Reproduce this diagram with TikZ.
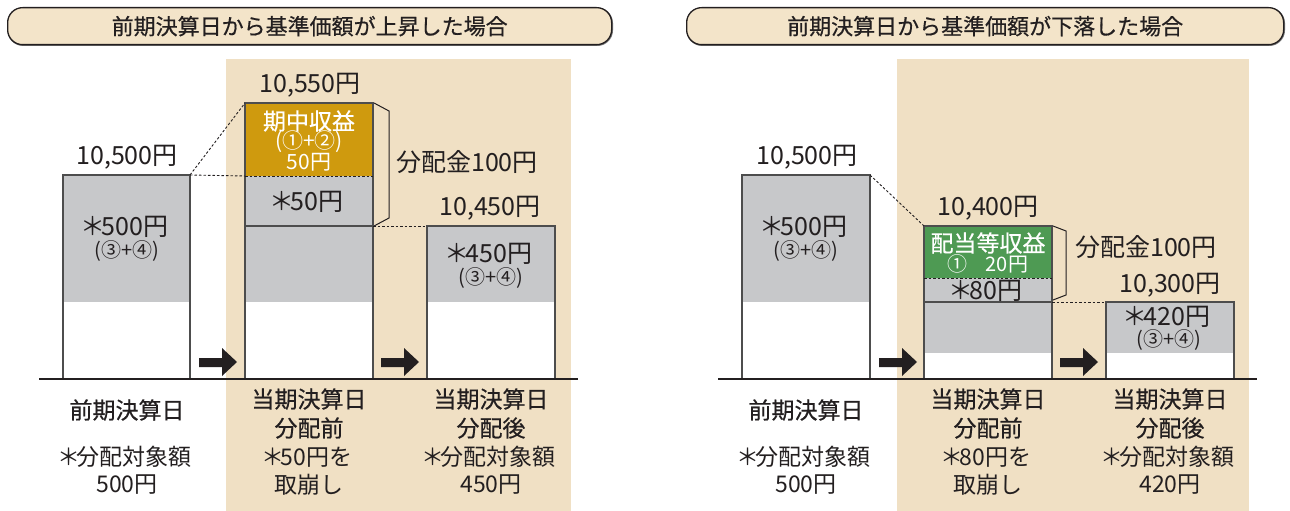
\documentclass[tikz,border=0pt]{standalone}
\usepackage{fontspec}
\newfontfamily\jp{Noto Sans CJK JP}
\newfontfamily\jpm[FakeBold=0.5]{Noto Sans CJK JP}
\definecolor{ink}{HTML}{231F20}
\definecolor{beige}{HTML}{F0E0C4}
\definecolor{hdr}{HTML}{F3E4C9}
\definecolor{barg}{HTML}{C7C8CA}
\definecolor{gold}{HTML}{CF9A0E}
\definecolor{grn}{HTML}{4E9A53}
\definecolor{edge}{HTML}{4D4D4D}
\newcommand\kome{\hspace{-0.2em}＊\hspace{-0.16em}}
\newcommand\fsA{\fontsize{25}{30}\selectfont}
\newcommand\fsB{\fontsize{23}{28}\selectfont}
\newcommand\fsC{\fontsize{20}{24}\selectfont}
\newcommand\fsD{\fontsize{21}{24}\selectfont}
\newcommand\fsH{\fontsize{22}{26}\selectfont}
\begin{document}
\begin{tikzpicture}[x=1pt,y=-1pt,
  txt/.style={font=\jp, text=ink, inner sep=0pt, anchor=center},
  wtxt/.style={font=\jp, text=white, inner sep=0pt, anchor=center},
  barbox/.style={draw=edge, line width=1.3pt, inner sep=0pt, outer sep=0pt, anchor=south west},
  dashline/.style={draw=ink, line width=0.9pt, dash pattern=on 2.5pt off 2pt},
  bracel/.style={draw=ink, line width=1pt, line join=miter},
  hdrbox/.style={draw=ink, fill=hdr, line width=1.3pt, rounded corners=15pt},
  basel/.style={draw=ink, line width=1.2pt},
  bigarrow/.style={fill=ink}
]
\useasboundingbox (0,0) rectangle (1290,511);
\fill[white] (0,0) rectangle (1290,511);

% ---------- headers ----------
\draw[line width=1.6pt, draw=black!55, rounded corners=15pt] (8.2,8.2) rectangle (612.2,45.2);
\node[hdrbox, minimum width=604pt, minimum height=37pt, anchor=north west] (H1) at (7,7) {};
\node[txt, font=\jpm\fsH] at (H1.center) {前期決算日から基準価額が上昇した場合};
\draw[line width=1.6pt, draw=black!55, rounded corners=15pt] (687.2,8.2) rectangle (1284.2,45.2);
\node[hdrbox, minimum width=597pt, minimum height=37pt, anchor=north west] (H2) at (686,7) {};
\node[txt, font=\jpm\fsH] at (H2.center) {前期決算日から基準価額が下落した場合};

% ---------- beige backgrounds ----------
\fill[beige] (226,59) rectangle (571,511);
\fill[beige] (897,59) rectangle (1249,511);

% ================= LEFT PANEL =================
\fill[barg] (63,175) rectangle (190,302);
\fill[white] (63,302) rectangle (190,379);
\fill[gold] (245,103) rectangle (373,176);
\fill[barg] (245,176) rectangle (373,302);
\fill[white] (245,302) rectangle (373,379);
\fill[barg] (427,226) rectangle (555,302);
\fill[white] (427,302) rectangle (555,379);
\node[barbox, minimum width=127pt, minimum height=204pt] (L1) at (63,379) {};
\node[barbox, minimum width=128pt, minimum height=276pt] (M1) at (245,379) {};
\node[barbox, minimum width=128pt, minimum height=153pt] (R1) at (427,379) {};
\coordinate (M1mid) at (245,226);
\coordinate (M1midR) at (373,226);
\draw[draw=edge, line width=1.3pt] (M1mid) -- (M1midR);
\coordinate (M1cutL) at (245,176);
\coordinate (M1cutR) at (373,176);
\draw[dashline] (M1cutL) -- (M1cutR);
\draw[dashline] (L1.north east) -- (M1.north west);
\draw[dashline] (L1.north east) -- (M1cutL);
\draw[dashline] (M1midR) -- (R1.north west);
\coordinate (B1a) at (374,103);
\coordinate (B1b) at (389,111);
\coordinate (B1c) at (389,218);
\coordinate (B1d) at (374,226);
\draw[bracel] (B1a) -- (B1b) -- (B1c) -- (B1d);
\coordinate (BL1a) at (39,379);
\coordinate (BL1b) at (578,379);
\draw[basel] (BL1a) -- (BL1b);
\fill[bigarrow] (199,358) -- (222,358) -- (222,348) -- (237,362) -- (222,376) -- (222,367) -- (199,367) -- cycle;
\fill[bigarrow] (381,358) -- (404,358) -- (404,348) -- (419,362) -- (404,376) -- (404,367) -- (381,367) -- cycle;
\node[txt, font=\jp\fsA] at (127,157) {10,500円};
\node[txt, font=\jp\fsA] at (127,227) {\kome 500円};
\node[txt, font=\jp\fsC] at (127,251) {(③+④)};
\node[txt, font=\jp\fsA] at (310,85) {10,550円};
\node[wtxt, font=\jpm\fsB] at (309,121) {期中収益};
\node[wtxt, font=\jp\fsD] at (309,142) {(①+②)};
\node[wtxt, font=\jp\fsD] at (309,162) {50円};
\node[txt, font=\jp\fsA] at (309,202) {\kome 50円};
\node[txt, font=\jp\fsA, anchor=west] at (396,162) {分配金100円};
\node[txt, font=\jp\fsA] at (490,208) {10,450円};
\node[txt, font=\jp\fsA] at (491,254) {\kome 450円};
\node[txt, font=\jp\fsC] at (491,278) {(③+④)};
\node[txt, font=\jpm\fsB] at (127,410) {前期決算日};
\node[txt, font=\jp\fsB] at (127,457) {\kome 分配対象額};
\node[txt, font=\jp\fsB] at (127,485) {500円};
\node[txt, font=\jpm\fsB] at (309,399) {当期決算日};
\node[txt, font=\jpm\fsB] at (309,428) {分配前};
\node[txt, font=\jp\fsB] at (309,457) {\kome 50円を};
\node[txt, font=\jp\fsB] at (309,485) {取崩し};
\node[txt, font=\jpm\fsB] at (491,399) {当期決算日};
\node[txt, font=\jpm\fsB] at (491,428) {分配後};
\node[txt, font=\jp\fsB] at (491,457) {\kome 分配対象額};
\node[txt, font=\jp\fsB] at (491,485) {450円};

% ================= RIGHT PANEL =================
\fill[barg] (742,175) rectangle (870,302);
\fill[white] (742,302) rectangle (870,379);
\fill[grn] (924,226) rectangle (1052,278);
\fill[barg] (924,278) rectangle (1052,353);
\fill[white] (924,353) rectangle (1052,379);
\fill[barg] (1106,302) rectangle (1234,353);
\fill[white] (1106,353) rectangle (1234,379);
\node[barbox, minimum width=128pt, minimum height=204pt] (L2) at (742,379) {};
\node[barbox, minimum width=128pt, minimum height=153pt] (M2) at (924,379) {};
\node[barbox, minimum width=128pt, minimum height=77pt] (R2) at (1106,379) {};
\coordinate (M2midL) at (924,302);
\coordinate (M2midR) at (1052,302);
\draw[draw=edge, line width=1.3pt] (M2midL) -- (M2midR);
\coordinate (M2cutL) at (924,278);
\coordinate (M2cutR) at (1052,278);
\draw[dashline] (M2cutL) -- (M2cutR);
\draw[dashline] (L2.north east) -- (M2.north west);
\draw[dashline] (M2midR) -- (R2.north west);
\coordinate (B2a) at (1053,226);
\coordinate (B2b) at (1066,231);
\coordinate (B2c) at (1066,295);
\coordinate (B2d) at (1053,300);
\draw[bracel] (B2a) -- (B2b) -- (B2c) -- (B2d);
\coordinate (BL2a) at (718,379);
\coordinate (BL2b) at (1257,379);
\draw[basel] (BL2a) -- (BL2b);
\fill[bigarrow] (879,358) -- (902,358) -- (902,348) -- (917,362) -- (902,376) -- (902,367) -- (879,367) -- cycle;
\fill[bigarrow] (1060,358) -- (1083,358) -- (1083,348) -- (1098,362) -- (1083,376) -- (1083,367) -- (1060,367) -- cycle;
\node[txt, font=\jp\fsA] at (807,157) {10,500円};
\node[txt, font=\jp\fsA] at (806,227) {\kome 500円};
\node[txt, font=\jp\fsC] at (806,251) {(③+④)};
\node[txt, font=\jp\fsA] at (988,208) {10,400円};
\node[wtxt, font=\jpm\fsB] at (988,243) {配当等収益};
\node[wtxt, font=\jp\fsC] at (988,264) {①\hspace{0.9em}20円};
\node[txt, font=\jp\fsA] at (988,291) {\kome 80円};
\node[txt, font=\jp\fsA, anchor=west] at (1075,247) {分配金100円};
\node[txt, font=\jp\fsA] at (1170,285) {10,300円};
\node[txt, font=\jp\fsA] at (1169,317) {\kome 420円};
\node[txt, font=\jp\fsC] at (1169,340) {(③+④)};
\node[txt, font=\jpm\fsB] at (806,410) {前期決算日};
\node[txt, font=\jp\fsB] at (806,457) {\kome 分配対象額};
\node[txt, font=\jp\fsB] at (806,485) {500円};
\node[txt, font=\jpm\fsB] at (988,399) {当期決算日};
\node[txt, font=\jpm\fsB] at (988,428) {分配前};
\node[txt, font=\jp\fsB] at (988,457) {\kome 80円を};
\node[txt, font=\jp\fsB] at (988,485) {取崩し};
\node[txt, font=\jpm\fsB] at (1170,399) {当期決算日};
\node[txt, font=\jpm\fsB] at (1170,428) {分配後};
\node[txt, font=\jp\fsB] at (1170,457) {\kome 分配対象額};
\node[txt, font=\jp\fsB] at (1170,485) {420円};
\end{tikzpicture}
\end{document}
